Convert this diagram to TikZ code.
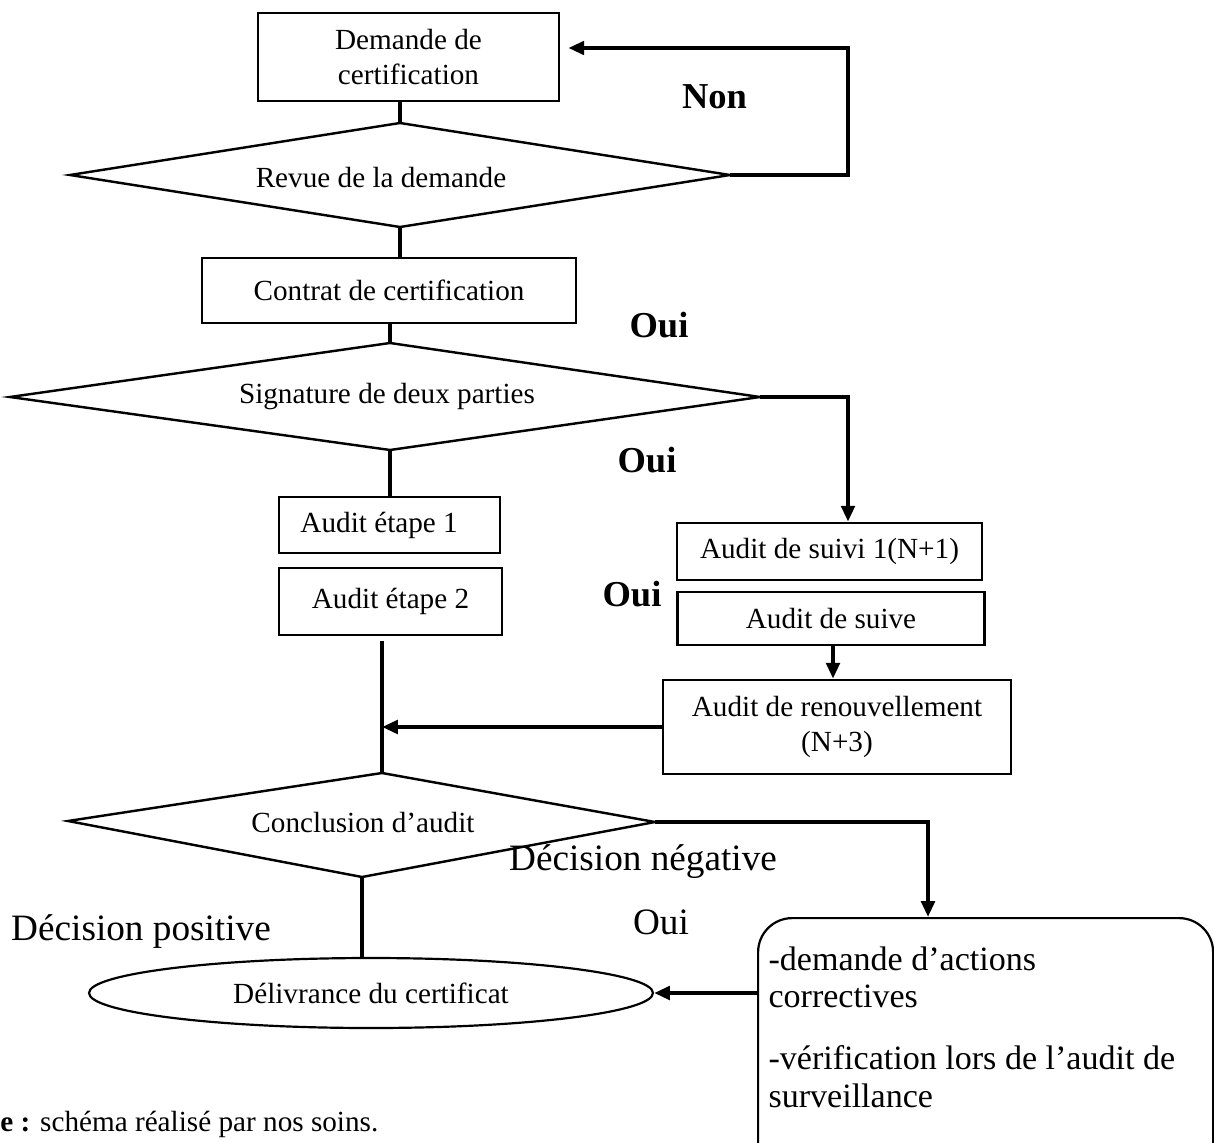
\documentclass[tikz,border=0pt]{standalone}
\usepackage{fontspec}
\setmainfont{Liberation Serif}
\usetikzlibrary{arrows.meta,shapes.geometric}
\newcommand\pxu{0.411pt}
\begin{document}
\begin{tikzpicture}[x=0.411pt,y=-0.411pt,
  box/.style={draw,line width=1.1pt,rectangle,inner sep=0pt,font=\fontsize{12}{14.4}\selectfont,align=center},
  conn/.style={line width=1.6pt},
  arr/.style={line width=1.6pt,-{Triangle[length=6.5pt,width=5.5pt]}},
  dia/.style={line width=1pt,line join=miter},
  lab/.style={font=\fontsize{15}{18}\selectfont\bfseries,inner sep=0pt},
  labr/.style={font=\fontsize{15.3}{18}\selectfont,inner sep=0pt},
  txt/.style={font=\fontsize{12}{14.4}\selectfont,inner sep=0pt}]
\useasboundingbox (0,0) rectangle (1214,1142);
\clip (0,0) rectangle (1214,1142);

% boxes
\node[box,minimum width=301*\pxu,minimum height=88*\pxu] (dem) at (408.5,57) {Demande de\\certification};
\node[box,minimum width=374*\pxu,minimum height=65*\pxu] (con) at (389,290.5) {Contrat de certification};
\node[box,minimum width=221*\pxu,minimum height=56*\pxu] (e1) at (389.5,525) {};
\node[txt,anchor=west] (e1t) at (300,525) {Audit étape 1};
\node[box,minimum width=223*\pxu,minimum height=67*\pxu] (e2) at (390.5,601.5) {Audit étape 2};
\node[box,minimum width=305*\pxu,minimum height=57*\pxu] (s1) at (829.5,551.5) {Audit de suivi 1(N+1)};
\node[box,minimum width=307*\pxu,minimum height=53*\pxu] (s2) at (831,618.5) {Audit de suive};
\node[box,minimum width=348*\pxu,minimum height=94*\pxu] (ren) at (837,727) {Audit de renouvellement\\(N+3)};
\node[draw,ellipse,line width=0.9pt,minimum width=564*\pxu,minimum height=70*\pxu,inner sep=0pt,font=\fontsize{12}{14.4}\selectfont] (ell) at (371,993) {Délivrance du certificat};
\node[draw,rectangle,rounded corners=14pt,line width=0.9pt,minimum width=455*\pxu,minimum height=260*\pxu,anchor=north west,inner sep=0pt] (rb) at (757,917) {};
\node[anchor=north west,align=left,inner sep=0pt,font=\fontsize{14}{15.5}\selectfont] (rbt) at (768,946)
  {-demande d’actions\\correctives\\[10pt]-vérification lors de l’audit de\\surveillance};

% diamonds
\coordinate (d1t) at (400,123); \coordinate (d1r) at (730,175);
\coordinate (d1b) at (400,227); \coordinate (d1l) at (70,175);
\draw[dia] (d1t)--(d1r)--(d1b)--(d1l)--cycle;
\node[txt] (d1) at (381,178) {Revue de la demande};

\coordinate (d2t) at (390,343); \coordinate (d2r) at (760,397);
\coordinate (d2b) at (390,450); \coordinate (d2l) at (10,397);
\draw[dia] (d2t)--(d2r)--(d2b)--(d2l)--cycle;
\node[txt] (d2) at (387,397) {Signature de deux parties};

\coordinate (d3t) at (382,773); \coordinate (d3r) at (655,822);
\coordinate (d3b) at (362,877); \coordinate (d3l) at (68,821);
\draw[dia] (d3t)--(d3r)--(d3b)--(d3l)--cycle;
\begin{scope}
\clip (200,780) rectangle (520,832);
\node[txt,anchor=base] (d3) at (363,832) {Conclusion d’audit};
\end{scope}

% connectors
\coordinate (k1) at (848,48);
\coordinate (k2) at (848,0);
\coordinate (k3) at (833,0);
\coordinate (k4) at (382,641);
\coordinate (k5) at (928,0);
\draw[conn] (d1t |- dem.south) -- (d1t);
\draw[conn] (d1b) -- (d1b |- con.north);
\draw[conn] (d2t |- con.south) -- (d2t);
\draw[arr,shorten >=3.3pt] (d1r) -| (k1) -- (k1 -| dem.east);
\draw[arr] (d2r) -| (k2 |- s1.north);
\draw[conn] (d2b) -- (d2b |- e1.north);
\draw[arr] (k3 |- s2.south) -- (k3 |- ren.north);
\draw[conn] (k4) -- (d3t);
\draw[arr] (ren.west) -- (ren.west -| d3t);
\draw[arr] (d3r) -| (k5 |- rb.north);
\draw[conn] (d3b) -- (d3b |- ell.north);
\draw[arr] (rb.west |- ell.east) -- (ell.east);

% labels
\node[lab] (non) at (714.5,97) {Non};
\node[lab] (oui1) at (659,325) {Oui};
\node[lab] (oui2) at (647,460) {Oui};
\node[lab] (oui3) at (632,594) {Oui};
\node[labr] (neg) at (643,862) {Décision négative};
\node[labr] (oui4) at (661,922) {Oui};
\node[labr] (pos) at (141,932) {Décision positive};
\node[txt,anchor=west] (src) at (0,1124) {\textbf{e :} schéma réalisé par nos soins.};
\end{tikzpicture}
\end{document}
